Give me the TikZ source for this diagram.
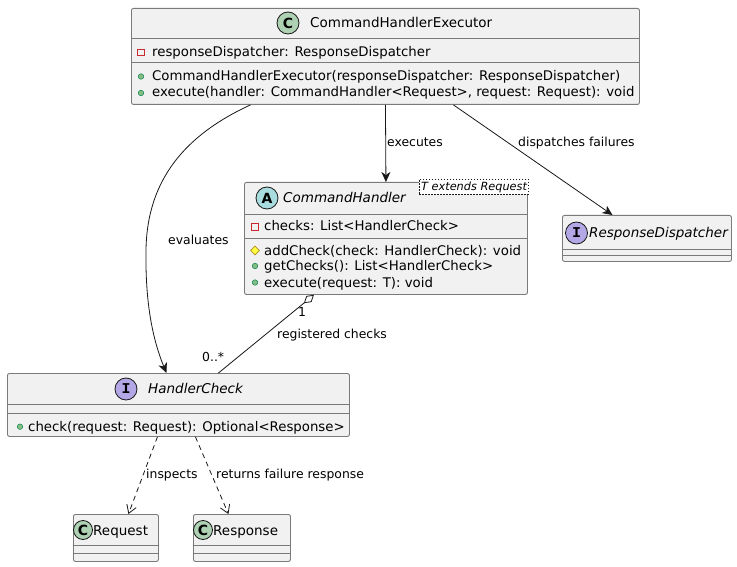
\documentclass[tikz,border=0pt]{standalone}
\usepackage{fontspec}
\setmainfont{DejaVu Sans}
\newfontfamily\monof{Liberation Mono}
\usetikzlibrary{arrows.meta,calc,shapes.geometric}
\definecolor{boxfill}{HTML}{F1F1F1}
\definecolor{boxline}{HTML}{7A7A7A}
\definecolor{edgec}{HTML}{181818}
\definecolor{cfill}{HTML}{ADD1B2}
\definecolor{afill}{HTML}{A9DCDF}
\definecolor{ifill}{HTML}{B4A7E5}
\definecolor{pubfill}{HTML}{84BE84}
\definecolor{publine}{HTML}{038048}
\definecolor{privline}{HTML}{C82930}
\definecolor{protfill}{HTML}{FFFF44}
\definecolor{protline}{HTML}{B38D22}
\begin{document}
\begin{tikzpicture}[x=1pt,y=-1pt,
 box/.style={draw=boxline, fill=boxfill, line width=0.9pt, rounded corners=2pt, inner sep=0pt, anchor=north west},
 sepline/.style={draw=boxline, line width=0.9pt},
 mem/.style={anchor=base west, inner sep=0pt, font=\fontsize{13.3}{15}\selectfont},
 ttl/.style={anchor=base west, inner sep=0pt, font=\fontsize{13.5}{15}\selectfont},
 ittl/.style={anchor=base west, inner sep=0pt, font=\fontsize{13.5}{15}\selectfont\itshape},
 lbl/.style={anchor=base west, inner sep=0pt, font=\fontsize{12.4}{14}\selectfont},
 circ/.style={circle, draw=edgec, line width=0.8pt, minimum size=22pt, inner sep=0pt, font=\fontsize{14}{14}\selectfont\bfseries},
 scirc/.style={circ, minimum size=19pt},
 icirc/.style={circ, fill=ifill, font=\fontsize{15}{15}\selectfont\monof\bfseries},
 pubic/.style={circle, draw=publine, fill=pubfill, line width=0.5pt, minimum size=5.5pt, inner sep=0pt},
 privic/.style={rectangle, draw=privline, minimum size=6.5pt, inner sep=0pt, line width=0.8pt},
 protic/.style={diamond, draw=protline, fill=protfill, line width=0.6pt, minimum size=9pt, inner sep=0pt},
 rel/.style={draw=edgec, line width=0.8pt},
 solidarrow/.style={rel, -{Stealth[length=10pt,width=9pt,inset=3pt]}},
 deparrow/.style={rel, dash pattern=on 5pt off 4pt, -{Straight Barb[length=8pt,width=10pt]}},
 aggr/.style={rel, {Diamond[open,fill=white,length=13pt,width=8pt]}-}
]
\useasboundingbox (0,0) rectangle (737,567);
\fill[white] (0,0) rectangle (737,567);

% ---------- CommandHandlerExecutor ----------
\node[box, minimum width=508pt, minimum height=96pt] (che) at (131,8) {};
\draw[sepline] (131,38) -- (639,38);
\draw[sepline] (131,62) -- (639,62);
\node[circ, fill=cfill] (cheic) at (288,23) {C};
\node[ttl] (chet) at (310,27.7) {CommandHandlerExecutor};
\node[privic] (chem1i) at (141,52.5) {};
\node[mem] (chem1) at (152,57) {responseDispatcher: ResponseDispatcher};
\node[pubic] (chem2i) at (141,76.5) {};
\node[mem] (chem2) at (152,80.7) {CommandHandlerExecutor(responseDispatcher: ResponseDispatcher)};
\node[pubic] (chem3i) at (141,93) {};
\node[mem] (chem3) at (152,97) {execute(handler: CommandHandler<Request>, request: Request): void};

% ---------- CommandHandler ----------
\node[box, minimum width=283pt, minimum height=112pt] (ch) at (244,182) {};
\draw[sepline] (244,214) -- (527,214);
\draw[sepline] (244,238) -- (527,238);
\node[circ, fill=afill] (chic) at (267,198) {A};
\node[ittl] (cht) at (283,202.7) {CommandHandler};
\node[draw=edgec, fill=white, dash pattern=on 1.5pt off 1.5pt, line width=0.5pt, anchor=north west, minimum width=109pt, minimum height=15pt, inner sep=0pt] (tpl) at (419,179) {};
\node[anchor=base west, inner sep=0pt, font=\fontsize{11.3}{13}\selectfont\itshape] (tplt) at (421,191) {T extends Request};
\node[privic] (chm1i) at (255,226.7) {};
\node[mem] (chm1) at (264,230.7) {checks: List<HandlerCheck>};
\node[protic] (chm2i) at (255,250.5) {};
\node[mem] (chm2) at (264,255) {addCheck(check: HandlerCheck): void};
\node[pubic] (chm3i) at (255,266) {};
\node[mem] (chm3) at (264,270.7) {getChecks(): List<HandlerCheck>};
\node[pubic] (chm4i) at (255,282.5) {};
\node[mem] (chm4) at (264,287.3) {execute(request: T): void};

% ---------- ResponseDispatcher ----------
\node[box, minimum width=169pt, minimum height=46pt] (rd) at (562,215) {};
\draw[sepline] (562,249) -- (731,249);
\draw[sepline] (562,255) -- (731,255);
\node[icirc] (rdic) at (576.5,233) {I};
\node[ittl] (rdt) at (589,237) {ResponseDispatcher};

% ---------- HandlerCheck ----------
\node[box, minimum width=342pt, minimum height=63pt] (hc) at (7,373) {};
\draw[sepline] (7,404) -- (349,404);
\draw[sepline] (7,413) -- (349,413);
\node[icirc] (hcic) at (126,389) {I};
\node[ittl] (hct) at (148,393) {HandlerCheck};
\node[pubic] (hcm1i) at (20,426.7) {};
\node[mem] (hcm1) at (28,431) {check(request: Request): Optional<Response>};

% ---------- Request ----------
\node[box, minimum width=85pt, minimum height=47pt] (req) at (73,514) {};
\draw[sepline] (73,545) -- (158,545);
\draw[sepline] (73,553) -- (158,553);
\node[scirc, fill=cfill] (reqic) at (83,530) {C};
\node[ttl] (reqt) at (93,535) {Request};

% ---------- Response ----------
\node[box, minimum width=97pt, minimum height=47pt] (resp) at (193,514) {};
\draw[sepline] (193,545) -- (290,545);
\draw[sepline] (193,553) -- (290,553);
\node[scirc, fill=cfill] (respic) at (203,530) {C};
\node[ttl] (respt) at (213,535) {Response};

% ---------- connectors ----------
\draw[solidarrow] (che.south) -- (ch.north);
\node[lbl] (l1) at (387,147) {executes};
\draw[solidarrow] ([xshift=68pt]che.south) -- ([xshift=-34.5pt]rd.north);
\node[lbl] (l2) at (518,147) {dispatches failures};
\draw[solidarrow] ([xshift=-135pt]che.south) .. controls (185,135) and (147,180) .. (146,250)
  .. controls (145,310) and (155,345) .. ([xshift=-12pt]hc.north);
\node[lbl] (l3) at (168,244) {evaluates};
\draw[aggr] ([xshift=-72pt]ch.south) -- ([xshift=40pt]hc.north);
\node[lbl] (l4) at (298,316) {1};
\node[lbl] (l5) at (277,338) {registered checks};
\node[lbl] (l6) at (202,361) {0..*};
\draw[deparrow] ([xshift=-21pt]hc.south) -- ([xshift=12.5pt]req.north);
\node[lbl] (l7) at (146,478) {inspects};
\draw[deparrow] ([xshift=17pt]hc.south) -- ([xshift=-13.5pt]resp.north);
\node[lbl] (l8) at (216,478) {returns failure response};
\end{tikzpicture}
\end{document}
